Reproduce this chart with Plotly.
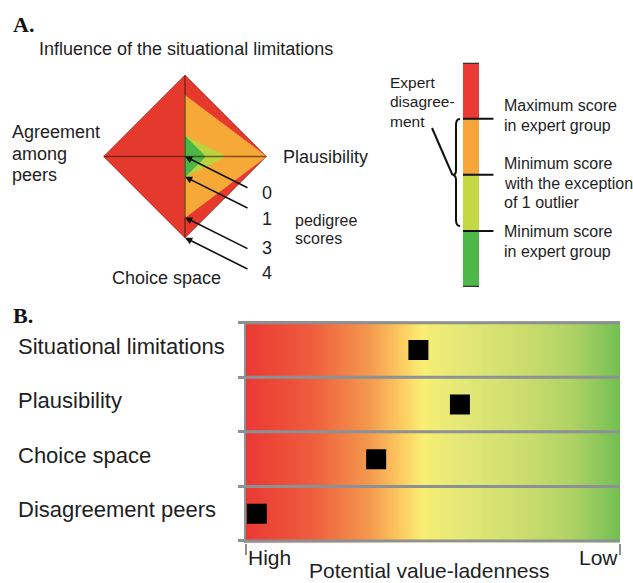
import plotly.graph_objects as go

W, H = 633, 583
FONT = "Liberation Sans, Arial, sans-serif"
SERIF = "Liberation Serif, Times New Roman, serif"
TXT = "#1e1e1e"

# ---------------- Panel A data ----------------
# order: top, right, bottom, left
dim_labels = ["Influence of the situational limitations", "Plausibility", "Choice space", "Agreement among peers"]
full_scale = [4, 4, 4, 4]
max_scores = [3, 4, 3, 0]
min_except_outlier = [1, 2, 1, 0]
min_scores = [1, 1, 1, 0]
pedigree_marks = [0, 1, 3, 4]

# legend bar: segments bottom->top
legend_colors = ["#4db848", "#c4d844", "#f6a53a", "#eb3a33"]
legend_heights = [1, 1, 1, 1]
legend_bounds = [3, 2, 1]
legend_texts = [["Maximum score", "in expert group"],
                ["Minimum score", "with the exception", "of 1 outlier"],
                ["Minimum score", "in expert group"]]

# ---------------- Panel B data ----------------
criteria = ["Situational limitations", "Plausibility", "Choice space", "Disagreement peers"]
value_ladenness = [0.461, 0.572, 0.348, 0.029]
row_pos = [3.5, 2.5, 1.5, 0.5]
grad_pos = [0.0, 0.18, 0.33, 0.42, 0.47, 0.56, 0.72, 0.87, 1.0]
grad_col = ["#eb3934", "#ef5e3d", "#f49a4e", "#fccf62", "#f9ee72", "#e6e977", "#cfdf6f", "#b0d265", "#72bf52"]

COL_RED, COL_OR, COL_YG, COL_GR = "#e6392e", "#f6a937", "#b9d43f", "#4cb748"


def px(x):
    return x / W


def py(y):
    return 1 - y / H


dirs = [(0, 1), (1, 0), (0, -1), (-1, 0)]


def polygon(scores):
    xs = [s * d[0] for s, d in zip(scores, dirs)]
    ys = [s * d[1] for s, d in zip(scores, dirs)]
    return xs + xs[:1], ys + ys[:1]


fig = go.Figure()

for scores, col, lc in [(full_scale, COL_RED, "#c02a22"), (max_scores, COL_OR, COL_OR),
                        (min_except_outlier, COL_YG, COL_YG), (min_scores, COL_GR, COL_GR)]:
    xs, ys = polygon(scores)
    fig.add_trace(go.Scatter(x=xs, y=ys, fill="toself", fillcolor=col, mode="lines",
                             line=dict(color=lc, width=1), xaxis="x", yaxis="y",
                             hoverinfo="skip", showlegend=False))

# axis cross lines
fig.add_trace(go.Scatter(x=[-4, 4], y=[0, 0], mode="lines", line=dict(color="rgba(70,25,10,0.65)", width=1.5),
                         xaxis="x", yaxis="y", hoverinfo="skip", showlegend=False))
fig.add_trace(go.Scatter(x=[0, 0], y=[-4, 4], mode="lines", line=dict(color="rgba(70,25,10,0.65)", width=1.5),
                         xaxis="x", yaxis="y", hoverinfo="skip", showlegend=False))

# legend bar
base = 0
for h, c in zip(legend_heights, legend_colors):
    fig.add_trace(go.Bar(x=[0.5], y=[h], base=[base], width=1, marker=dict(color=c, line=dict(width=0)),
                         xaxis="x2", yaxis="y2", hoverinfo="skip", showlegend=False))
    base += h
for b in legend_bounds:
    fig.add_trace(go.Scatter(x=[0, 1.9], y=[b, b], mode="lines", line=dict(color="#111", width=2),
                             xaxis="x2", yaxis="y2", hoverinfo="skip", showlegend=False))
for b in [0, sum(legend_heights)]:
    fig.add_trace(go.Scatter(x=[0, 1], y=[b, b], mode="lines", line=dict(color="#333", width=2.5),
                             xaxis="x2", yaxis="y2", hoverinfo="skip", showlegend=False))

# panel B gradient
cscale = [[p, c] for p, c in zip(grad_pos, grad_col)]
fig.add_trace(go.Heatmap(z=[[0, 1], [0, 1]], x=[0, 1], y=[0, 4], zsmooth="best", colorscale=cscale,
                         zmin=0, zmax=1, showscale=False, hoverinfo="skip", xaxis="x3", yaxis="y3"))
for k in range(5):
    fig.add_trace(go.Scatter(x=[0, 1], y=[k, k], mode="lines", line=dict(color="#8c9196", width=3),
                             xaxis="x3", yaxis="y3", hoverinfo="skip", showlegend=False))
fig.add_trace(go.Scatter(x=value_ladenness, y=row_pos, mode="markers",
                         marker=dict(symbol="square", size=20, color="black"),
                         xaxis="x3", yaxis="y3", hoverinfo="skip", showlegend=False))

hidden = dict(visible=False, fixedrange=True)
fig.update_layout(
    width=W, height=H, margin=dict(l=0, r=0, t=0, b=0),
    paper_bgcolor="white", plot_bgcolor="rgba(0,0,0,0)", barmode="overlay", showlegend=False,
    xaxis=dict(domain=[px(95), px(275)], range=[-4.4333, 4.4333], anchor="y", **hidden),
    yaxis=dict(domain=[py(246.5), py(66.5)], range=[-4.4333, 4.4333], anchor="x", **hidden),
    xaxis2=dict(domain=[px(463), px(495)], range=[0, 2], anchor="y2", **hidden),
    yaxis2=dict(domain=[py(287), py(62.7)], range=[0, 4], anchor="x2", **hidden),
    xaxis3=dict(domain=[px(246), px(620)], range=[0, 1], anchor="y3", tickvals=[0, 1], ticks="outside",
                ticklen=11, tickwidth=2, tickcolor="#8c9196", showticklabels=False, showgrid=False,
                zeroline=False, showline=False, fixedrange=True),
    yaxis3=dict(domain=[py(542.6), py(321.1)], range=[-0.03, 4.03], anchor="x3", tickvals=[0, 1, 2, 3, 4],
                ticks="outside", ticklen=6, tickwidth=3, tickcolor="#8c9196", showticklabels=False,
                showgrid=False, zeroline=False, showline=True, linecolor="#8c9196", linewidth=2,
                fixedrange=True),
)

ann = []


def text(x, y, s, size, xanchor="left", family=FONT, bold=False, **kw):
    d = dict(x=x, y=y, text=f"<b>{s}</b>" if bold else s, showarrow=False, xanchor=xanchor, yanchor="middle",
             font=dict(family=family, size=size, color=TXT if not bold else "#111"))
    d.setdefault("xref", "paper")
    d.setdefault("yref", "paper")
    d.update(kw)
    ann.append(d)


# panel letters
text(px(11), py(25), "A.", 22, family=SERIF, bold=True)
text(px(11), py(315), "B.", 22, family=SERIF, bold=True)

# diamond axis labels
text(px(186), py(49), dim_labels[0], 18, xanchor="center")
text(px(281), py(157), dim_labels[1], 18)
text(px(166), py(278), dim_labels[2], 18, xanchor="center")
for line, yy in zip(["Agreement", "among", "peers"], [132, 153.5, 175]):
    text(px(10), py(yy), line, 18)

# pedigree score arrows and labels
for s, yy in zip(pedigree_marks, [193, 219, 248, 273]):
    ann.append(dict(x=0, y=-s, xref="x", yref="y", text="", showarrow=True, arrowhead=2, arrowsize=0.9,
                    arrowwidth=1.6, arrowcolor="#111", ax=64, ay=32, standoff=0))
    text(px(267), py(yy), str(s), 18, xanchor="center")
text(px(293), py(220), "pedigree", 16)
text(px(293), py(238.5), "scores", 16)

# legend bar labels
offsets = [13, 11, -1]
for b, lines, off in zip(legend_bounds, legend_texts, offsets):
    for i, line in enumerate(lines):
        text(px(501.5), b, line, 16, yref="y2", yshift=off - 19.5 * i)
for line, yy in zip(["Expert", "disagree-", "ment"], [82, 102, 122]):
    text(px(388), py(yy), line, 15.5)

# panel B labels
for c, r in zip(criteria, row_pos):
    text(px(16), r, c, 22, yref="y3", yshift=4)
text(0, py(557), "High", 21, xref="x3")
text(1, py(557), "Low", 21, xanchor="right", xref="x3")
text(px(429), py(570), "Potential value-ladenness", 21, xanchor="center")

fig.update_layout(annotations=ann)


def path(pts, cmds):
    out = []
    for c, p in zip(cmds, pts):
        out.append(c + " " + " ".join(f"{px(x):.5f},{py(y):.5f}" for x, y in p))
    return " ".join(out)


brace = path([[(460, 119)], [(456, 119), (456, 125)], [(456, 170)], [(456, 175), (452.5, 175)],
              [(456, 175), (456, 180)], [(456, 220)], [(456, 226), (460, 226)]],
             ["M", "Q", "L", "Q", "Q", "L", "Q"])
pointer = path([[(432, 128)], [(452.5, 175)]], ["M", "L"])
fig.update_layout(shapes=[
    dict(type="path", path=brace, xref="paper", yref="paper", line=dict(color="#111", width=2)),
    dict(type="path", path=pointer, xref="paper", yref="paper", line=dict(color="#111", width=2)),
])

fig.write_html("out.html", config={"displayModeBar": False},
               post_script="document.body.style.margin='0';document.body.style.overflow='hidden';")
